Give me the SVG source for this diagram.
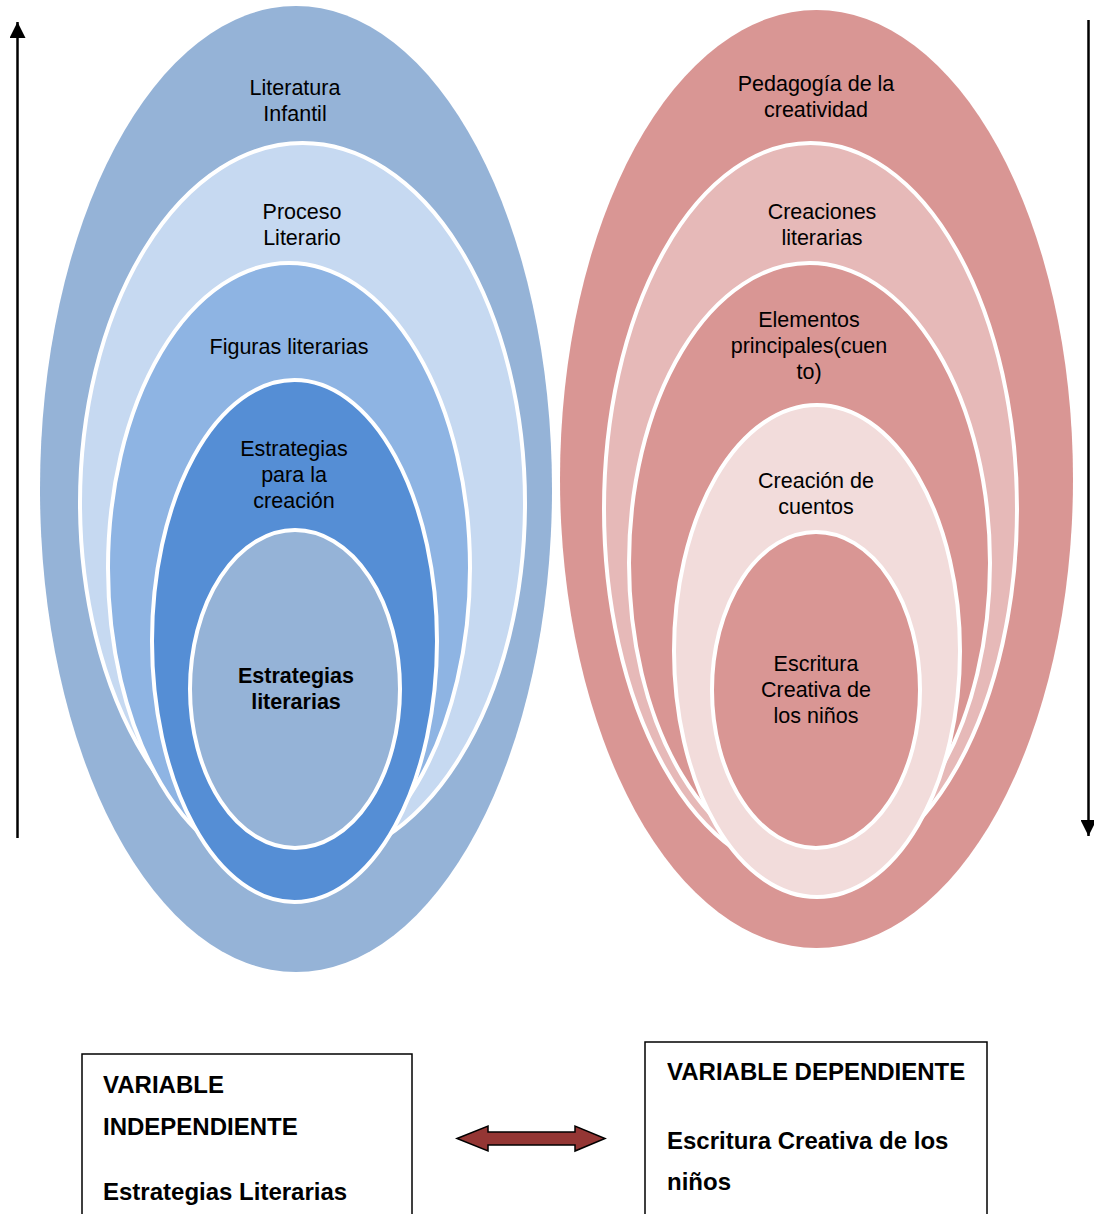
<svg xmlns="http://www.w3.org/2000/svg" width="1094" height="1214" viewBox="0 0 1094 1214">
<style>
.t{font-family:"Liberation Sans",Arial,sans-serif;font-size:21.5px;fill:#000;text-anchor:middle}
.b{font-weight:bold}
.bx{font-family:"Liberation Sans",Arial,sans-serif;font-size:24px;font-weight:bold;fill:#000}
.ring{stroke:#fff;stroke-width:4}
.box{fill:#fff;stroke:#000;stroke-width:1.5}
</style>
<defs>
<marker id="ah" viewBox="0 0 16 16" refX="16" refY="8" markerWidth="16" markerHeight="16" markerUnits="userSpaceOnUse" orient="auto">
<path d="M0,0 L16,8 L0,16 Z" fill="#000"/>
</marker>
</defs>
<rect width="1094" height="1214" fill="#fff"/>

<g id="left-set">
<g id="l1"><ellipse cx="296" cy="489" rx="256" ry="483" fill="#95B3D7"/><text class="t" x="295" y="95">Literatura</text><text class="t" x="295" y="121">Infantil</text></g>
<g id="l2"><ellipse class="ring" cx="302.5" cy="503" rx="222.5" ry="360" fill="#C6D9F1"/><text class="t" x="302" y="219">Proceso</text><text class="t" x="302" y="245">Literario</text></g>
<g id="l3"><ellipse class="ring" cx="289" cy="568" rx="181" ry="305" fill="#8EB4E3"/><text class="t" x="289" y="354">Figuras literarias</text></g>
<g id="l4"><ellipse class="ring" cx="294.5" cy="641" rx="142.5" ry="261" fill="#558ED5"/><text class="t" x="294" y="456">Estrategias</text><text class="t" x="294" y="482">para la</text><text class="t" x="294" y="508">creación</text></g>
<g id="l5"><ellipse class="ring" cx="295" cy="689" rx="105" ry="159" fill="#95B3D7"/><text class="t b" x="296" y="683">Estrategias</text><text class="t b" x="296" y="709">literarias</text></g>
</g>

<g id="right-set">
<g id="r1"><ellipse cx="816.5" cy="479" rx="256.5" ry="469" fill="#D99694"/><text class="t" x="816" y="91">Pedagogía de la</text><text class="t" x="816" y="117">creatividad</text></g>
<g id="r2"><ellipse class="ring" cx="810.5" cy="509" rx="206.5" ry="366" fill="#E6B9B8"/><text class="t" x="822" y="219">Creaciones</text><text class="t" x="822" y="245">literarias</text></g>
<g id="r3"><ellipse class="ring" cx="809.5" cy="563" rx="180.5" ry="300" fill="#D99694"/><text class="t" x="809" y="327">Elementos</text><text class="t" x="809" y="353">principales(cuen</text><text class="t" x="809" y="379">to)</text></g>
<g id="r4"><ellipse class="ring" cx="817" cy="651" rx="143" ry="246" fill="#F2DCDB"/><text class="t" x="816" y="488">Creación de</text><text class="t" x="816" y="514">cuentos</text></g>
<g id="r5"><ellipse class="ring" cx="816" cy="690" rx="104" ry="158" fill="#D99694"/><text class="t" x="816" y="671">Escritura</text><text class="t" x="816" y="697">Creativa de</text><text class="t" x="816" y="723">los niños</text></g>
</g>

<g id="box-independiente">
<rect class="box" x="82" y="1054" width="330" height="170"/>
<text class="bx" x="103" y="1093">VARIABLE</text>
<text class="bx" x="103" y="1135">INDEPENDIENTE</text>
<text class="bx" x="103" y="1200">Estrategias Literarias</text>
</g>
<g id="box-dependiente">
<rect class="box" x="645" y="1042" width="342" height="182"/>
<text class="bx" x="667" y="1080">VARIABLE DEPENDIENTE</text>
<text class="bx" x="667" y="1149">Escritura Creativa de los</text>
<text class="bx" x="667" y="1190">niños</text>
</g>

<g id="connectors">
<line x1="17.5" y1="838" x2="17.5" y2="22" stroke="#000" stroke-width="2.5" marker-end="url(#ah)"/>
<line x1="1088.5" y1="20" x2="1088.5" y2="836" stroke="#000" stroke-width="2.5" marker-end="url(#ah)"/>
<path d="M457,1138.5 L488,1126 L488,1132 L575,1132 L575,1126 L605,1138.5 L575,1151 L575,1145 L488,1145 L488,1151 Z" fill="#943634" stroke="#000" stroke-width="1.5" stroke-linejoin="miter"/>
</g>
</svg>
